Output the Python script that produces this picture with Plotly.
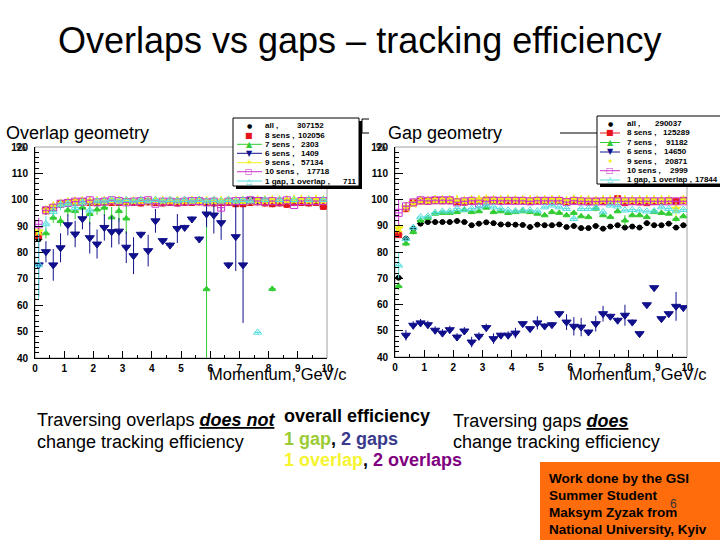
import plotly.graph_objects as go

W, H = 720, 540

# ---------------- data ----------------
n_bins = 40
bin_width = 0.25
momentum = [bin_width * (i + 0.5) for i in range(n_bins)]

series_names = ["all", "8 sens", "7 sens", "6 sens", "9 sens", "10 sens", "1 gap, 1 overlap"]
counts_overlap = ["307152", "102056", "2303", "1409", "57134", "17718", "711"]
counts_gap = ["290037", "125289", "91182", "14650", "20871", "2999", "17844"]

# Overlap geometry (left)
ov_all = [85.0, 95.5, 96.8, 98.0, 98.5, 98.7, 98.9, 98.8, 98.8, 99.0, 98.8, 98.8, 99.0, 98.8, 98.6, 99.0,
          98.8, 98.6, 98.8, 98.6, 98.8, 98.8, 99.0, 98.8, 98.6, 98.8, 98.8, 98.3, 98.3, 98.8, 99.0, 98.6,
          98.3, 98.6, 98.1, 98.8, 98.8, 98.6, 98.8, 97.3]
ov_8 = [86.5, 96.0, 97.0, 98.5, 98.8, 99.0, 99.2, 99.0, 99.0, 99.2, 99.0, 99.0, 99.3, 99.0, 98.8, 99.2,
        99.0, 98.8, 99.0, 98.8, 99.0, 99.0, 99.2, 99.0, 98.8, 99.0, 99.0, 98.5, 98.5, 99.0, 99.2, 98.8,
        98.5, 98.8, 98.3, 99.0, 99.0, 98.8, 99.0, 97.5]
ov_7 = [None, 87.3, 93.2, 91.9, 96.0, 95.7, 97.0, 94.6, 96.3, 97.0, 93.3, 95.7, 92.9, None, 100.0, None,
        100.0, None, None, 100.0, None, None, 100.0, 66.1, 99.5, 99.5, 100.0, 99.5, 99.0, 99.5, 100.0, 99.5,
        66.2, 99.5, 100.0, 99.5, 100.0, 99.5, 99.5, 100.0]
ov_7_err = [0, 2, 2, 2, 2, 3, 3, 4, 2, 3, 4, 4, 6, 0, 0, 0,
            0, 0, 0, 0, 0, 0, 0, 28, 0.5, 0.5, 0, 0.5, 1, 0.5, 0, 0.5,
            1, 0.5, 0, 0.5, 0, 0.5, 0.5, 0]
ov_6 = [75.3, 80.3, 75.3, 81.8, 90.5, 87.0, 92.8, 85.6, 83.2, 89.5, 87.9, 88.1, 82.0, 78.8, 86.9, 80.7,
        92.0, 84.5, 82.8, 89.1, 89.5, 92.7, 85.1, 94.6, 94.2, 91.3, 75.3, 86.0, 75.3, 100.0, 100.0, None,
        None, None, None, None, None, None, None, None]
ov_6_err = [12, 4, 6, 5.5, 4, 5, 4, 6, 5.5, 5, 6, 5, 6, 7, 1, 6,
            4.5, 1, 1, 5.5, 1, 1, 1, 5, 7, 6.5, 1, 13, 22, 0, 0, 0,
            0, 0, 0, 0, 0, 0, 0, 0]
ov_9 = [88.0, 96.0, 97.5, 98.5, 99.0, 99.3, 99.5, 99.5, 99.5, 99.5, 99.6, 99.6, 99.5, 99.6, 99.6, 99.5,
        99.6, 99.6, 99.6, 99.5, 99.6, 99.6, 99.6, 99.6, 99.6, 99.6, 99.6, 99.6, 99.6, 99.6, 99.8, 99.8,
        99.8, 99.8, 99.8, 100.0, 100.0, 99.8, 100.0, 99.8]
ov_10 = [90.7, 96.0, 97.0, 98.5, 98.8, 99.3, 99.3, 99.8, 99.0, 99.3, 99.8, 99.5, 99.0, 99.3, 99.5, 99.8,
         98.5, 99.3, 99.3, 99.0, 99.3, 99.5, 99.5, 99.0, 99.3, 97.0, 99.3, 99.5, 99.5, 99.8, 99.5, 99.3,
         99.5, 99.3, 99.8, 98.0, 99.5, 99.5, 99.5, 99.5]
ov_10_err = [2.5, 1, 1, 0.5, 0.5, 0.5, 0.5, 0.5, 0.5, 0.5, 0.5, 0.5, 0.5, 0.5, 0.5, 0.5,
             0.5, 0.5, 0.5, 0.5, 0.5, 0.5, 0.5, 0.5, 0.5, 1.5, 0.5, 0.5, 0.5, 0.5, 0.5, 0.5,
             0.5, 0.5, 0.5, 0.5, 0.5, 0.5, 0.5, 0.5]
ov_1g = [75.3, 90.8, 95.5, 98.0, 98.5, 97.0, 99.0, 96.0, 99.5, 99.5, 100.0, 99.5, 100.0, 99.5, 100.0, 99.5,
         100.0, 99.5, 100.0, 99.5, 100.0, 99.5, 100.0, 99.5, 100.0, 99.5, 100.0, 99.5, 100.0, 99.5, 49.7, 100.0,
         None, 100.0, None, 100.0, None, 100.0, None, 100.0]
ov_1g_err = [13, 3, 2, 2, 1.5, 2, 1.5, 3, 0.5, 0.5, 0, 0.5, 0, 0.5, 0, 0.5,
             0, 0.5, 0, 0.5, 0, 0.5, 0, 0.5, 0, 0.5, 0, 0.5, 0, 0.5, 0.5, 0,
             0, 0, 0, 0, 0, 0, 0, 0]

# Gap geometry (right)
gp_all = [70.2, 85.1, 88.9, 90.8, 91.4, 91.4, 91.4, 91.4, 91.8, 91.4, 90.2, 90.8, 91.3, 91.0, 90.5, 90.5,
          90.4, 90.3, 89.5, 90.4, 90.2, 90.2, 90.5, 89.5, 89.9, 89.1, 89.1, 89.9, 88.9, 89.7, 90.2, 89.3,
          89.7, 89.3, 91.0, 90.2, 90.2, 90.8, 89.3, 90.2]
gp_8 = [86.6, 96.5, 98.7, 99.4, 99.3, 99.6, 99.5, 99.5, 99.2, 99.0, 99.3, 99.4, 99.8, 99.5, 99.4, 99.6,
        99.5, 99.5, 99.3, 99.6, 99.5, 99.5, 99.6, 99.2, 99.5, 99.4, 99.3, 99.4, 99.2, 99.4, 100.3, 98.8,
        99.3, 99.1, 98.8, 99.3, 99.3, 99.5, 99.3, 99.7]
gp_7 = [67.0, 83.2, 87.6, 92.0, 93.0, 94.6, 94.9, 94.9, 95.2, 95.9, 95.2, 95.5, 96.9, 95.2, 95.5, 94.9,
        95.2, 95.5, 95.2, 94.6, 94.0, 95.2, 94.9, 94.0, 94.9, 93.6, 93.3, 96.5, 94.0, 93.3, 95.5, 92.0,
        94.0, 94.0, 93.3, 95.2, 94.9, 94.6, 92.6, 93.6]
gp_7_err = [1.5, 1, 1, 1, 0.5, 0.5, 0.5, 0.5, 0.5, 0.5, 0.5, 0.5, 0.5, 0.5, 0.5, 0.5,
            0.5, 0.5, 0.5, 0.5, 0.5, 0.5, 0.5, 0.5, 0.5, 0.5, 0.5, 1, 0.5, 0.5, 0.5, 2,
            0.5, 0.5, 0.5, 0.5, 0.5, 0.5, 1, 0.5]
gp_6 = [None, 48.3, 52.1, 53.0, 52.3, 50.2, 49.1, 50.4, 47.6, 49.9, 45.7, 47.9, 51.2, 47.0, 48.3, 48.3,
        49.1, 52.7, 50.8, 53.0, 51.8, 52.3, 56.5, 53.3, 51.7, 51.4, 49.5, 52.7, 56.5, 55.5, 54.0, 55.9,
        53.3, 48.9, 59.9, 66.4, 54.6, 56.5, 59.3, 58.8]
gp_6_err = [0, 2, 1.5, 1.5, 1.5, 1.5, 1.5, 1.5, 1.5, 1.5, 2, 1.5, 1.5, 2, 1, 1.5,
            2, 1, 1, 2.5, 1, 1, 1, 3, 3.5, 3.5, 1, 3, 3, 1, 1, 4,
            1, 0.5, 0.5, 0.5, 0.5, 1, 5.5, 1]
gp_9 = [89.0, 97.0, 98.5, 99.5, 99.5, 99.8, 99.8, 99.8, 99.8, 99.5, 99.8, 99.8, 100.0, 99.8, 99.8, 100.0,
        99.8, 99.8, 99.8, 99.8, 99.8, 99.8, 99.8, 99.5, 100.0, 99.8, 99.8, 99.5, 99.8, 99.8, 99.8, 99.8,
        99.8, 99.8, 99.8, 99.8, 99.8, 99.8, 96.5, 99.8]
gp_9_err = [2, 1, 0.5, 0.3, 0.3, 0.3, 0.3, 0.3, 0.3, 0.3, 0.3, 0.3, 0.3, 0.3, 0.3, 0.3,
            0.3, 0.3, 0.3, 0.3, 0.3, 0.3, 0.3, 0.3, 0.3, 0.3, 0.3, 0.3, 0.3, 0.3, 0.3, 0.3,
            0.3, 0.3, 0.3, 0.3, 0.3, 0.3, 3, 0.3]
gp_10 = [94.9, 97.4, 98.9, 99.7, 99.5, 99.7, 99.7, 99.7, 98.9, 99.3, 99.5, 98.4, 99.3, 99.6, 99.5, 99.5,
         99.5, 99.5, 99.3, 99.5, 99.5, 99.5, 99.5, 99.0, 99.5, 99.3, 99.2, 99.2, 99.3, 99.3, 99.3, 99.3,
         99.3, 99.3, 99.3, 99.3, 99.3, 99.3, 99.3, 99.3]
gp_10_err = [5, 1.5, 0.5, 0.5, 0.5, 0.5, 0.5, 0.5, 0.5, 0.5, 0.5, 0.5, 0.5, 0.5, 0.5, 0.5,
             0.5, 0.5, 0.5, 0.5, 0.5, 0.5, 0.5, 0.5, 0.5, 0.5, 0.5, 0.5, 0.5, 0.5, 0.5, 0.5,
             0.5, 0.5, 0.5, 0.5, 0.5, 0.5, 0.5, 0.5]
gp_1g = [74.9, 85.0, 89.3, 93.3, 93.6, 95.0, 95.5, 95.5, 96.5, 96.1, 96.5, 97.1, 97.8, 97.1, 96.5, 95.9,
         95.6, 95.9, 95.9, 95.6, 97.1, 97.8, 97.1, 96.5, 92.7, 96.5, 96.5, 96.8, 95.2, 97.8, 97.4, 95.9,
         96.1, 95.9, 95.5, 95.6, 97.1, 96.5, 95.6, 96.1]
gp_1g_err = [5, 1, 1, 0.5, 0.5, 0.5, 0.5, 0.5, 0.5, 0.5, 0.5, 0.5, 0.5, 0.5, 0.5, 0.5,
             0.5, 0.5, 0.5, 0.5, 0.5, 0.5, 0.5, 0.5, 1, 0.5, 0.5, 0.5, 0.5, 0.5, 0.5, 0.5,
             0.5, 0.5, 0.5, 0.5, 0.5, 0.5, 0.5, 0.5]

x_ticks = list(range(0, 11))
y_ticks = [40, 50, 60, 70, 80, 90, 100, 110, 120]

# ---------------- styles ----------------
colors = ["#000000", "#e8141c", "#33cc33", "#10108c", "#f0f020", "#cc33cc", "#55dddd"]
symbols = ["circle", "square", "triangle-up", "triangle-down", "star", "square-open", "triangle-up-open"]
sizes = [5, 6, 6, 8, 7, 7, 7]
leg_glyphs = ["●", "■", "▲", "▼", "✶", "□", "△"]
leg_lines_ov = [False, False, True, True, True, True, True]
leg_lines_gp = [False, True, True, True, False, True, True]

FONT = "Liberation Sans, Arial, sans-serif"
LEG_SIZE = 8


def px(x):
    return x / W


def py(y):
    return 1 - y / H


fig = go.Figure()

ov_series = [(ov_all, None), (ov_8, None), (ov_7, ov_7_err), (ov_6, ov_6_err),
             (ov_9, None), (ov_10, ov_10_err), (ov_1g, ov_1g_err)]
gp_series = [(gp_all, None), (gp_8, None), (gp_7, gp_7_err), (gp_6, gp_6_err),
             (gp_9, gp_9_err), (gp_10, gp_10_err), (gp_1g, gp_1g_err)]

for axes, series in (("x", ov_series), ("x2", gp_series)):
    yax = "y" if axes == "x" else "y2"
    for k, (vals, errs) in enumerate(series):
        tr = dict(
            x=momentum, y=vals, mode="markers", xaxis=axes, yaxis=yax,
            name=series_names[k], showlegend=False,
            marker=dict(symbol=symbols[k], size=sizes[k], color=colors[k],
                        line=dict(color=colors[k], width=1)),
            error_x=dict(type="constant", value=bin_width / 2, width=0, thickness=1, color=colors[k]),
        )
        if errs is not None:
            tr["error_y"] = dict(type="data", array=errs, width=0, thickness=1, color=colors[k])
        fig.add_trace(go.Scatter(**tr))

axis_common = dict(
    showline=True, linecolor="black", linewidth=1, showgrid=False, zeroline=False, automargin=False,
    ticks="inside", tickcolor="black", tickwidth=1,
    tickfont=dict(family=FONT, size=10, color="black", weight="bold"),
)
xax = dict(axis_common, range=[0, 10], tickvals=x_ticks, ticklen=7, ticklabelstandoff=1,
           minor=dict(ticks="inside", dtick=0.5, ticklen=3, tickcolor="black"))
yax = dict(axis_common, range=[40, 120], tickvals=y_ticks, ticklen=8,
           minor=dict(ticks="inside", dtick=2, ticklen=4, tickcolor="black"), ticklabelstandoff=4)

shapes = []
annotations = []

# plot frames (light right/top border)
for xr, yr in (("x", "y"), ("x2", "y2")):
    shapes.append(dict(type="rect", xref=xr + " domain", yref=yr + " domain", x0=0, x1=1, y0=0, y1=1,
                       line=dict(color="#a0a0a0", width=1), layer="below"))


def legend(box, rows, sym_x, line_x, name_x, count_x, counts, with_lines):
    x0, x1, y0, y1 = box
    shapes.append(dict(type="rect", xref="paper", yref="paper", x0=px(x0 + 3), x1=px(x1 + 3),
                       y0=py(y1 + 3), y1=py(y0 + 3), fillcolor="black", line=dict(width=0)))
    shapes.append(dict(type="rect", xref="paper", yref="paper", x0=px(x0), x1=px(x1),
                       y0=py(y1), y1=py(y0), fillcolor="white", line=dict(color="black", width=1)))
    for k, ry in enumerate(rows):
        if with_lines[k]:
            shapes.append(dict(type="line", xref="paper", yref="paper", x0=px(line_x[0]), x1=px(line_x[1]),
                               y0=py(ry), y1=py(ry), line=dict(color=colors[k], width=1)))
        annotations.append(dict(x=px(sym_x), y=py(ry), xref="paper", yref="paper", text=leg_glyphs[k],
                                showarrow=False, xanchor="center", yanchor="middle",
                                font=dict(family="DejaVu Sans", size=8 if k else 6, color=colors[k])))
        annotations.append(dict(x=px(name_x), y=py(ry), xref="paper", yref="paper",
                                text=series_names[k] + " ,", showarrow=False, xanchor="left",
                                yanchor="middle", font=dict(family=FONT, size=LEG_SIZE, color="black", weight="bold")))
        annotations.append(dict(x=px(count_x[k]), y=py(ry), xref="paper", yref="paper",
                                text=counts[k], showarrow=False, xanchor="left",
                                yanchor="middle", font=dict(family=FONT, size=LEG_SIZE, color="black", weight="bold")))


legend((233, 359, 118, 186), [125, 135, 144.3, 153.3, 162.7, 171.7, 181], 249, (237, 262), 263,
       [295, 296, 299, 299, 299, 305, 341], counts_overlap, leg_lines_ov)
legend((597, 722, 116, 184), [123.5, 133, 142.5, 152, 161.3, 170.7, 180], 610, (600, 620), 625,
       [653, 661, 664, 662, 663, 668, 693], counts_gap, leg_lines_gp)

# small decorations near legends
shapes.append(dict(type="path", xref="paper", yref="paper",
                   path=f"M {px(369)} {py(119)} L {px(362)} {py(119)} L {px(362)} {py(133)} L {px(369)} {py(133)}",
                   line=dict(color="black", width=1)))
shapes.append(dict(type="line", xref="paper", yref="paper", x0=px(560), x1=px(597), y0=py(133), y1=py(133),
                   line=dict(color="black", width=1)))

# orange box
shapes.append(dict(type="rect", xref="paper", yref="paper", x0=px(540), x1=1, y0=0, y1=py(462),
                   fillcolor="#ff6c0c", line=dict(width=0)))


def text(x, y, s, size, anchor="left", color="black", family=FONT, weight="normal"):
    annotations.append(dict(x=px(x), y=py(y), xref="paper", yref="paper", text=s, showarrow=False,
                            xanchor=anchor, yanchor="middle",
                            font=dict(family=family, size=size, color=color, weight=weight)))


text(360, 40, "Overlaps vs gaps – tracking efficiency", 36, anchor="center")
text(4, 133, "Overlap geometry", 18)
text(386, 133, "Gap geometry", 18)
text(21, 147, "%", 11, anchor="center")
text(381, 147, "%", 11, anchor="center")
text(349, 374, "Momentum, GeV/c", 16.5, anchor="right")
text(709, 374, "Momentum, GeV/c", 16.5, anchor="right")

text(35, 420, "Traversing overlaps <b><i><u>does not</u></i></b>", 18)
text(35, 442, "change tracking efficiency", 18)
text(282, 416, "<b>overall efficiency</b>", 18)
text(282, 439, "<b><span style='color:#99cc33'>1 gap</span>, <span style='color:#3a3a8c'>2 gaps</span></b>", 18)
text(282, 460, "<b><span style='color:#f4f430'>1 overlap</span>, <span style='color:#800080'>2 overlaps</span></b>", 18)
text(451, 421, "Traversing gaps <b><i><u>does</u></i></b>", 18)
text(451, 442, "change tracking efficiency", 18)

for i, line in enumerate(["Work done by the GSI", "Summer Student", "Maksym Zyzak from", "National University, Kyiv"]):
    text(547, 478 + 17 * i, "<b>" + line + "</b>", 13.5)
text(673, 504, "6", 12, anchor="center", color="#333333")

fig.update_layout(
    width=W, height=H, margin=dict(l=0, r=0, t=0, b=0, pad=0, autoexpand=False),
    paper_bgcolor="white", plot_bgcolor="white", showlegend=False,
    xaxis=dict(xax, domain=[px(35), px(327)], anchor="y"),
    yaxis=dict(yax, domain=[py(358), py(147)], anchor="x"),
    xaxis2=dict(xax, domain=[px(395), px(687)], anchor="y2"),
    yaxis2=dict(yax, domain=[py(357), py(147)], anchor="x2"),
    shapes=shapes, annotations=annotations,
)

fig.write_html("out.html", config={"displayModeBar": False},
               post_script="document.body.style.margin='0';document.documentElement.style.overflow='hidden';")
